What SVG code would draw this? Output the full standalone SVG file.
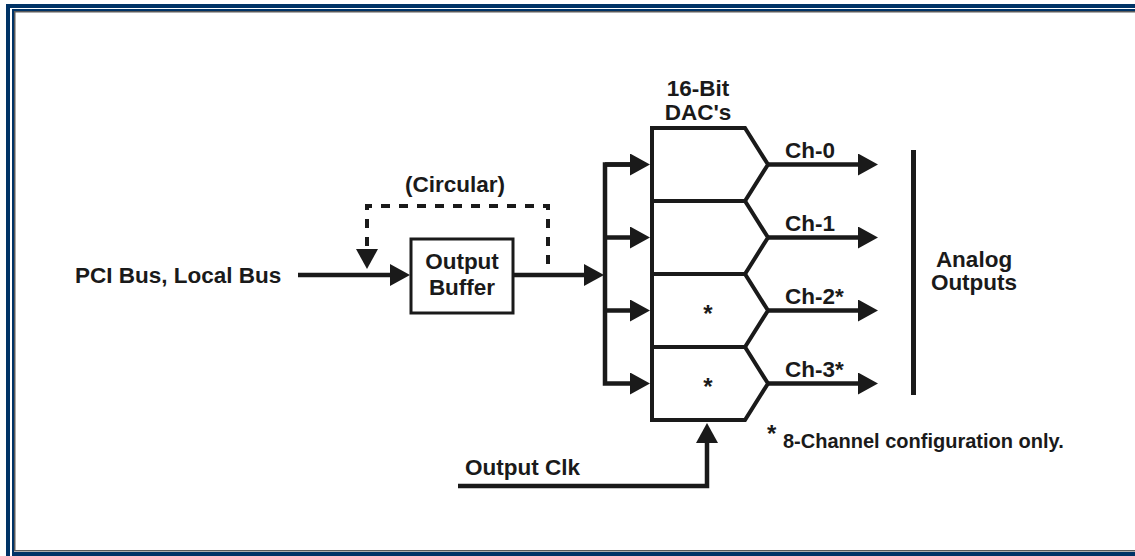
<svg xmlns="http://www.w3.org/2000/svg" width="1135" height="556" viewBox="0 0 1135 556">
<style>
.frame{fill:#003366}
.gray{fill:#5a5a5a}
.ln{fill:none;stroke:#1a1a1a;stroke-width:4.5}
.blk{fill:#fff;stroke:#1a1a1a;stroke-width:4;stroke-linejoin:miter}
.dash{fill:none;stroke:#1a1a1a;stroke-width:4;stroke-dasharray:9 9}
text{font-family:"Liberation Sans",Arial,sans-serif;font-weight:bold;fill:#1a1a1a;font-size:22.5px}
.mid{text-anchor:middle}
.star{font-size:24px}
</style>
<defs>
<marker id="ah" markerUnits="userSpaceOnUse" markerWidth="20" markerHeight="22" refX="10" refY="11" orient="auto" viewBox="0 0 20 22">
<path d="M0,0 L20,11 L0,22 Z" fill="#1a1a1a"/>
</marker>
</defs>
<rect width="1135" height="556" fill="#fff"/>
<g id="frame">
<rect class="frame" x="6" y="4" width="1129" height="4"/>
<rect class="frame" x="6" y="4" width="4" height="552"/>
<rect class="frame" x="12" y="9" width="1123" height="2"/>
<rect class="frame" x="12" y="9" width="2" height="547"/>
<rect class="gray" x="14" y="11" width="1121" height="1.5"/>
<rect class="gray" x="14" y="11" width="1.5" height="540"/>
<rect class="gray" x="14" y="550" width="1121" height="1.5"/>
<rect class="frame" x="12" y="552" width="1123" height="4"/>
</g>
<g id="connectors">
<path class="ln" d="M298 275 H400" marker-end="url(#ah)"/>
<path class="ln" d="M513 275 H594" marker-end="url(#ah)"/>
<path class="dash" d="M548 264 V206 H367 V259" marker-end="url(#ah)"/>
<path class="ln" d="M640 164.5 H605 V383.5 H640" marker-end="url(#ah)"/>
<path class="ln" d="M605 164.5 H640" marker-end="url(#ah)"/>
<path class="ln" d="M605 237.5 H640" marker-end="url(#ah)"/>
<path class="ln" d="M605 310.5 H640" marker-end="url(#ah)"/>
<path class="ln" d="M768 164.5 H868" marker-end="url(#ah)"/>
<path class="ln" d="M768 237.5 H868" marker-end="url(#ah)"/>
<path class="ln" d="M768 310.5 H868" marker-end="url(#ah)"/>
<path class="ln" d="M768 383.5 H868" marker-end="url(#ah)"/>
<path class="ln" d="M458 486 H707 V433" marker-end="url(#ah)"/>
<path class="ln" d="M913.5 150 V395" style="stroke-width:5"/>
</g>
<g id="pci-bus"><text x="75" y="283">PCI Bus, Local Bus</text></g>
<g id="circular"><text class="mid" x="455" y="192">(Circular)</text></g>
<g id="output-buffer">
<rect x="411" y="239" width="102" height="74" fill="#fff" stroke="#1a1a1a" stroke-width="3"/>
<text class="mid" x="462" y="269">Output</text>
<text class="mid" x="462" y="295">Buffer</text>
</g>
<g id="dac-title">
<text class="mid" x="698" y="96">16-Bit</text>
<text class="mid" x="698" y="120">DAC's</text>
</g>
<g id="dac-ch0">
<path class="blk" d="M652 128 H745 L768 164.5 L745 201 H652 Z"/>
<text x="785" y="158">Ch-0</text>
</g>
<g id="dac-ch1">
<path class="blk" d="M652 201 H745 L768 237.5 L745 274 H652 Z"/>
<text x="785" y="231">Ch-1</text>
</g>
<g id="dac-ch2">
<path class="blk" d="M652 274 H745 L768 310.5 L745 347 H652 Z"/>
<text class="mid star" x="708" y="322">*</text>
<text x="785" y="304">Ch-2*</text>
</g>
<g id="dac-ch3">
<path class="blk" d="M652 347 H745 L768 383.5 L745 420 H652 Z"/>
<text class="mid star" x="708" y="395">*</text>
<text x="785" y="377">Ch-3*</text>
</g>
<g id="output-clk"><text x="465" y="475">Output Clk</text></g>
<g id="analog-outputs">
<text class="mid" x="974" y="267">Analog</text>
<text class="mid" x="974" y="290">Outputs</text>
</g>
<g id="footnote">
<text x="767" y="442" style="font-size:24px">*</text>
<text x="783" y="448" style="font-size:20px">8-Channel configuration only.</text>
</g>
</svg>
